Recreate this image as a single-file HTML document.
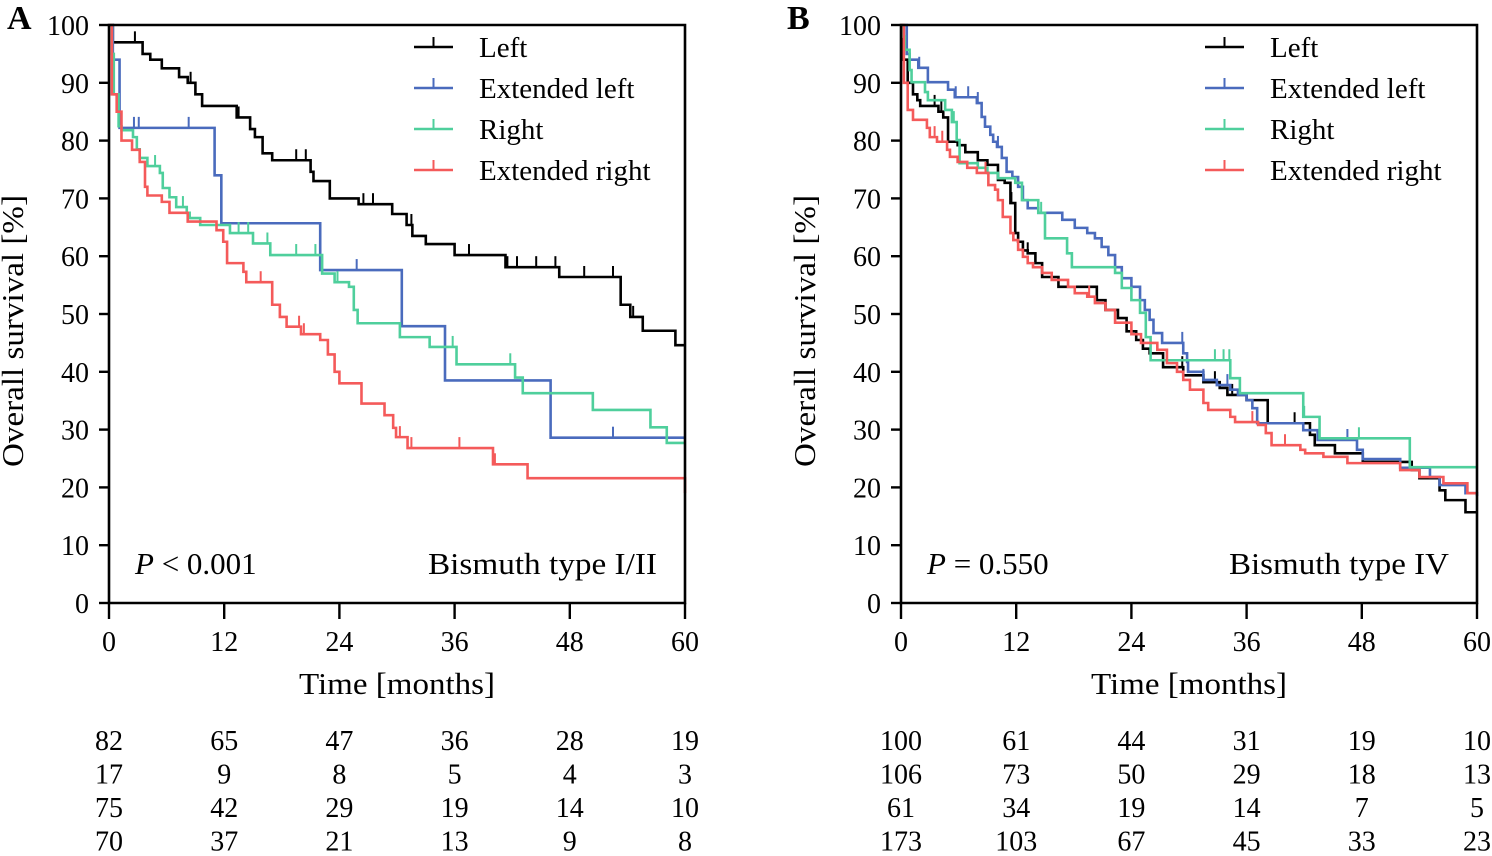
<!DOCTYPE html>
<html><head><meta charset="utf-8"><style>
body{margin:0;background:#fff}
svg{display:block;font-family:"Liberation Serif",serif}
</style></head><body>
<svg id="chart" width="1492" height="856" viewBox="0 0 1492 856" xmlns="http://www.w3.org/2000/svg"></svg>
<script>
// ---- Data ----
const xTicks = [0, 12, 24, 36, 48, 60];
const yTicks = [0, 10, 20, 30, 40, 50, 60, 70, 80, 90, 100];
const seriesNames = ["Left", "Extended left", "Right", "Extended right"];
const seriesColors = ["#000000", "#4a6bbd", "#4fcf9c", "#f45a5a"];

// Panel A (time, survival)
const aLeft = [[0,100],[0.4,97],[3.5,95],[4.3,94],[5.5,92.5],[7.3,91],[8.2,90],[9,88],[9.7,86],[13.3,84],[14.7,82],[15.2,80.6],[16,77.8],[17,76.6],[21,74.6],[21.3,73],[23,70],[26,69],[29.5,67.3],[31,65.4],[31.6,63.5],[33,62.1],[36,60.2],[41.3,58.1],[46.9,56.4],[53.3,51.6],[54.3,49.5],[55.6,47.1],[59,44.6],[60,44.6]];
const aExtLeft = [[0,100],[0.4,94],[1.1,82.2],[11,74],[11.7,65.7],[22,57.6],[30.5,47.9],[35,38.5],[46,28.6],[60,28.6]];
const aRight = [[0,100],[0.3,95],[0.5,88],[1,82.5],[1.3,81.8],[2.5,80.6],[2.9,78.5],[3.2,77],[4,75.6],[5.3,74.4],[5.6,71.8],[6.3,70.2],[7,68.5],[8.1,67.5],[8.4,66.6],[9.5,65.4],[12.6,64],[15,62.2],[16.8,60.2],[22.2,57],[23.5,55.5],[25,54.7],[25.5,50.7],[25.9,48.4],[30.3,46],[33.4,44.3],[36.2,41.3],[42.3,39],[43.1,36.3],[50.4,33.4],[56.4,30.4],[58.1,27.7],[60,27.7]];
const aExtRight = [[0,100],[0.3,88],[0.8,85],[1.3,80],[2.4,78.4],[3.2,76.3],[3.75,72],[4,70.5],[5.5,69.4],[6.3,67.5],[8.2,66],[11.2,64.5],[11.9,62.5],[12.3,58.8],[14,57.3],[14.3,55.5],[17,51.6],[17.8,49.5],[18.5,47.8],[20,46.5],[22,45.5],[22.8,43],[23.5,40],[24,38],[26.3,34.5],[28.7,32.5],[29.6,30.3],[29.9,28.7],[31.1,26.8],[40,24],[43.6,21.6],[60,21.6],[60,19]];
// Panel B
const bLeft = [[0,100],[0.1,94],[0.7,90],[1.25,88],[1.7,87],[2,86],[3.9,85],[4.4,84],[4.9,79.8],[5.9,79.2],[6.7,78],[8,76.6],[9,75.8],[10.1,73.2],[10.8,72.7],[11.4,69.2],[11.9,64],[12.2,62.5],[12.7,61],[13.2,60.5],[14,58.8],[14.7,56.4],[16.4,54.7],[20.4,52.4],[21.3,50.7],[22.6,49.3],[23.5,47],[24.5,45.5],[25.2,44],[25.9,43.2],[27.3,40.8],[29.4,39.4],[31.5,38.2],[33.2,37.2],[34,36],[36,35.1],[38.2,31.1],[42.6,29.1],[43.1,27.3],[45.2,25.9],[48.1,24.4],[53.2,23],[54,21.6],[56.1,19.5],[56.7,17.8],[58.8,15.7],[60,15.7]];
const bExtLeft = [[0,100],[0.6,95],[0.9,94],[1.8,92.6],[2.8,90.1],[4.9,88.8],[5.6,87.5],[7.9,86.5],[8.4,84.1],[8.75,82.4],[9.3,81],[9.6,79.8],[10,78.9],[10.5,77],[11,74.6],[11.6,73.7],[12.2,72],[12.7,69.7],[13.2,68.3],[14.3,67.5],[16.8,66.3],[18.1,64.9],[19.4,64],[20.2,63.1],[20.9,61.6],[21.6,60.2],[22.3,58.1],[23,56.2],[24,54.7],[24.9,52.4],[25.4,50.7],[25.9,49],[26.3,46.7],[27.2,45],[29.4,43.2],[29.8,41.7],[29.9,40],[31.5,38.6],[32.9,37.7],[34.3,36.9],[35.1,36],[36,35.1],[36.6,33.7],[37.1,31.1],[41.9,29.9],[43.4,28.2],[47.5,26.5],[48.1,24.9],[52,23.4],[55.1,21.8],[56.1,20.4],[58.8,19],[60,18.5]];
const bRight = [[0,100],[0.2,98],[0.4,95.7],[0.9,92.2],[1.1,90.1],[2.5,88.4],[2.8,87],[4.6,85.3],[5.3,83.2],[5.8,80.1],[6.1,76.1],[8,75.3],[9,74.4],[10.1,73.5],[11.9,72.7],[12.6,69.7],[14.3,67.5],[15,63.1],[17.3,60.5],[17.8,58.1],[22.3,57.1],[23,54.5],[24,52.4],[24.9,50.2],[25.5,46],[26,42],[34.3,38.9],[35.3,36.3],[41.9,32.2],[43.6,28.5],[53,23.5],[60,23.5]];
const bExtRight = [[0,100],[0.3,90],[0.7,85.3],[1.25,83.6],[2.7,82.2],[3,80.6],[3.75,79.8],[4.8,78.4],[5.1,77.2],[5.9,76.3],[6.9,75.3],[7.9,74.4],[9.1,72.3],[9.8,71.5],[10.1,69.7],[10.6,66.8],[11.4,64],[11.7,62.8],[12.2,61.1],[12.7,59.9],[13.2,58.8],[13.75,58.1],[14.7,57.1],[15.7,55.9],[17.4,54.7],[18.1,53.6],[19.4,53],[20.2,51.9],[21.3,50.7],[22.3,48.5],[24,46.5],[25,45],[26.7,43.8],[27.7,41.5],[28.75,40],[29.4,38.6],[30.1,36.9],[31.5,34.6],[32,33.4],[34.3,32.2],[34.8,31.3],[37.2,30.8],[38,29.4],[38.6,27.3],[41.6,26.5],[42.1,25.9],[44,25.3],[46.5,24.2],[52,23],[54,21.8],[56.5,20.7],[59,19],[60,19]];

// censor tick times
const aLeftCens = [2.7,8.5,13.5,19.5,20.5,26.5,27.5,31.5,37.5,41.5,42.5,44.5,46.5,49.5,52.5,54.6];
const aExtLeftCens = [2.6,3.1,8.3,25.8,52.5];
const aRightCens = [4.8,7.7,13.5,14.5,16.5,19.5,21.5,23.8,35.8,41.8];
const aExtRightCens = [15.8,17.8,19.8,20.3,30.3,31.5,36.5,40.2];
const bLeftCens = [3.5,4.2,11.5,13.2,29.3,32.7,34.5,41,53];
const bExtLeftCens = [1.9,5.7,7,8,10.1,29.3,29.9,31.5,34,46.5];
const bRightCens = [5.5,14.6,17.8,32.7,33.6,34.2,42,47.7];
const bExtRightCens = [3.5,4.3,8.8,19.6,36.6,40];

// risk table
const riskA = [[82,65,47,36,28,19],[17,9,8,5,4,3],[75,42,29,19,14,10],[70,37,21,13,9,8]];
const riskB = [[100,61,44,31,19,10],[106,73,50,29,18,13],[61,34,19,14,7,5],[173,103,67,45,33,23]];

const NS = "http://www.w3.org/2000/svg";
const svg = document.getElementById("chart");
function mk(tag, attrs, parent){
  const e = document.createElementNS(NS, tag);
  for (const k in attrs) e.setAttribute(k, attrs[k]);
  (parent||svg).appendChild(e);
  return e;
}
const Y0 = 603, Y100 = 25;
function ys(v){ return Y0 + (Y100 - Y0) * v / 100; }

function stepAt(pts, t){
  let v = pts[0][1];
  for (const p of pts){ if (p[0] <= t) v = p[1]; }
  return v;
}

function panel(opt){
  const x0 = opt.x0, x60 = x0 + 576;
  const xs = t => x0 + (x60 - x0) * t / 60;
  const g = mk("g", {});
  
  
  const L = mk("text", {x: opt.letterX, y: 29, "font-size": 34, "font-weight": "bold"}, g);
  L.textContent = opt.letter;
  
  
  opt.series.forEach((pts, si) => {
    let d = "M" + xs(pts[0][0]) + "," + ys(pts[0][1]);
    for (let i = 1; i < pts.length; i++){
      d += "H" + xs(pts[i][0]) + "V" + ys(pts[i][1]);
    }
    const p = mk("path", {d: d, fill: "none", stroke: seriesColors[si], "stroke-width": 2.6}, g);
    
    
    opt.cens[si].forEach(t => {
      const yv = ys(stepAt(pts, t));
      const c = mk("line", {x1: xs(t), x2: xs(t), y1: yv, y2: yv - 11, stroke: seriesColors[si], "stroke-width": 2}, g);
      
      
    });
  });
  const fr = mk("path", {d: `M${x0},${Y100}H${x60}V${Y0}H${x0}Z`, fill: "none", stroke: "#000", "stroke-width": 2.6}, g);
  
  
  yTicks.forEach(v => {
    const tl = mk("line", {x1: x0 - 10, x2: x0, y1: ys(v), y2: ys(v), stroke: "#000", "stroke-width": 2.4}, g);
    
    
    const tx = mk("text", {x: x0 - 20, y: ys(v) + 10, "font-size": 28, "text-anchor": "end"}, g);
    tx.textContent = v;
    
    
  });
  xTicks.forEach((v, i) => {
    const tl = mk("line", {x1: xs(v), x2: xs(v), y1: Y0, y2: Y0 + 16, stroke: "#000", "stroke-width": 2.4}, g);
    
    
    const tx = mk("text", {x: xs(v), y: 651, "font-size": 28, "text-anchor": "middle"}, g);
    tx.textContent = v;
    
    
    opt.risk.forEach((row, r) => {
      const rt = mk("text", {x: xs(v), y: 750 + r * 33.5, "font-size": 28, "text-anchor": "middle"}, g);
      rt.textContent = row[i];
      
      
    });
  });
  const xt = mk("text", {x: (x0 + x60) / 2, y: 694, "font-size": 31, "text-anchor": "middle", textLength: 196, lengthAdjust: "spacingAndGlyphs"}, g);
  xt.textContent = "Time [months]";
  
  
  const yt = mk("text", {x: 0, y: 0, "font-size": 31, "text-anchor": "middle", textLength: 272, lengthAdjust: "spacingAndGlyphs", transform: `translate(${opt.ytX},331) rotate(-90)`}, g);
  yt.textContent = "Overall survival [%]";
  
  
  seriesNames.forEach((n, i) => {
    const ly = 47 + i * 41;
    const lg = mk("g", {}, g);
    
    
    mk("line", {x1: opt.legX, x2: opt.legX + 39, y1: ly, y2: ly, stroke: seriesColors[i], "stroke-width": 2.6}, lg);
    mk("line", {x1: opt.legX + 19.5, x2: opt.legX + 19.5, y1: ly, y2: ly - 10, stroke: seriesColors[i], "stroke-width": 2}, lg);
    const t = mk("text", {x: opt.legX + 65, y: ly + 10, "font-size": 29}, lg);
    t.textContent = n;
  });
  const pt = mk("text", {x: x0 + 26, y: 574, "font-size": 31}, g);
  pt.innerHTML = '<tspan font-style="italic">P</tspan> ' + opt.p;
  
  
  const bt = mk("text", {x: x60 - 28, y: 574, "font-size": 31, "text-anchor": "end", textLength: opt.bw, lengthAdjust: "spacingAndGlyphs"}, g);
  bt.textContent = opt.bism;
  
  
}

panel({name: "panel-a", letter: "A", letterX: 7, x0: 109, ytX: 23, legX: 414,
  series: [aLeft, aExtLeft, aRight, aExtRight],
  cens: [aLeftCens, aExtLeftCens, aRightCens, aExtRightCens],
  risk: riskA, p: "&lt; 0.001", bism: "Bismuth type I/II", bw: 229});
panel({name: "panel-b", letter: "B", letterX: 787, x0: 901, ytX: 815, legX: 1205,
  series: [bLeft, bExtLeft, bRight, bExtRight],
  cens: [bLeftCens, bExtLeftCens, bRightCens, bExtRightCens],
  risk: riskB, p: "= 0.550", bism: "Bismuth type IV", bw: 220});
</script>
</body></html>
